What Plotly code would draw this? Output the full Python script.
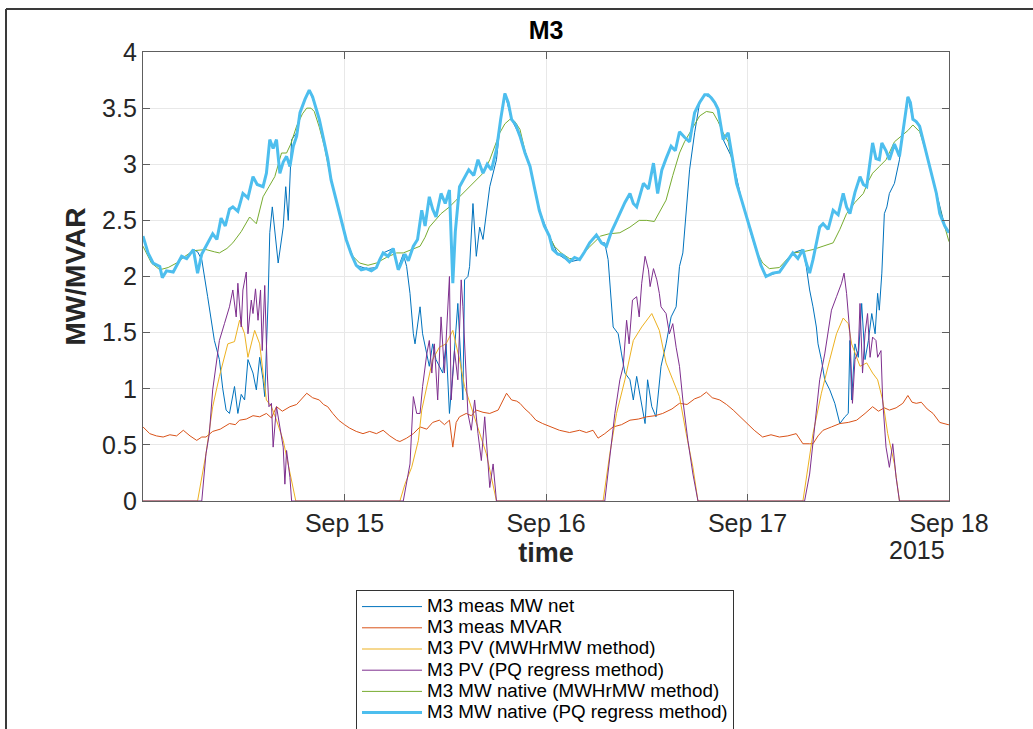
import pandas as pd
import plotly.graph_objects as go

# ---- data: hours after 2015-09-14 00:00 and values in MW / MVAR ----
start = pd.Timestamp("2015-09-14 00:00")

mw_net_h = [0.0, 0.6, 1.2, 2.0, 2.3, 2.8, 3.6, 4.2, 4.6, 5.2, 6.0, 6.5, 7.0, 7.7, 8.5, 9.1, 9.5, 9.9,
            10.3, 10.9, 11.3, 11.7, 12.1, 12.5, 13.1, 13.5, 13.9, 14.3, 14.5, 14.9, 15.1, 15.4, 15.7,
            16.1, 16.7, 17.0, 17.3, 17.7, 18.3, 18.7, 19.3, 19.8, 20.6, 21.6, 22.4, 23.0, 24.2, 25.4,
            26.6, 27.8, 28.6, 29.8, 30.4, 31.0, 31.4, 31.8, 32.2, 32.4, 33.0, 33.3, 34.1, 34.5, 34.9,
            35.7, 36.1, 36.5, 36.9, 37.5, 38.1, 38.3, 38.7, 38.9, 39.3, 39.7, 40.1, 40.5, 41.3, 42.1,
            42.6, 43.1, 43.9, 44.9, 46.1, 47.2, 48.4, 49.4, 50.8, 52.0, 53.2, 54.0, 54.6, 55.0, 55.4,
            56.0, 56.6, 57.0, 57.4, 58.0, 58.4, 58.8, 59.2, 59.8, 60.1, 60.6, 61.1, 61.5, 61.7, 62.3,
            62.9, 63.5, 63.9, 64.3, 64.7, 65.1, 65.7, 66.3, 66.9, 67.7, 68.5, 69.1, 70.2, 71.3, 72.5,
            73.6, 74.2, 75.8, 77.4, 78.6, 79.0, 79.4, 79.8, 80.2, 80.4, 80.8, 81.2, 81.8, 82.4, 83.0,
            83.6, 84.0, 84.2, 84.4, 84.8, 85.2, 85.6, 86.0, 86.4, 86.8, 87.2, 87.5, 87.7, 88.0, 88.3,
            88.6, 88.9, 89.5, 90.1, 90.6, 91.1, 91.7, 92.5, 93.3, 94.5, 95.5, 96.0]
mw_net_v = [2.36, 2.21, 2.12, 2.09, 1.99, 2.05, 2.04, 2.12, 2.18, 2.16, 2.24, 2.22, 2.15, 1.82, 1.43,
            1.26, 1.00, 0.81, 0.78, 1.02, 0.78, 0.95, 0.90, 1.26, 1.14, 0.99, 1.28, 1.08, 0.93, 1.79,
            2.39, 2.62, 2.40, 2.12, 2.44, 2.80, 2.50, 3.22, 3.28, 3.46, 3.58, 3.66, 3.51, 3.19, 2.86,
            2.68, 2.33, 2.10, 2.07, 2.08, 2.21, 2.25, 2.08, 2.20, 2.09, 1.85, 1.49, 1.40, 1.73, 1.49,
            1.20, 1.40, 1.26, 1.14, 1.40, 0.78, 1.14, 1.76, 0.90, 1.97, 2.00, 2.09, 2.65, 2.18, 2.44,
            2.33, 2.80, 3.04, 3.40, 3.63, 3.40, 3.25, 2.98, 2.59, 2.36, 2.20, 2.13, 2.15, 2.30, 2.37,
            2.30, 2.30, 2.15, 1.55, 1.49, 1.31, 1.14, 1.08, 0.90, 1.11, 0.93, 0.69, 1.08, 0.84, 0.75,
            1.02, 1.20, 1.40, 1.64, 1.73, 2.09, 2.21, 2.56, 2.95, 3.28, 3.55, 3.62, 3.59, 3.49, 3.22,
            3.05, 2.68, 2.36, 2.10, 2.00, 2.04, 2.21, 2.24, 2.09, 1.88, 1.73, 1.55, 1.40, 1.26, 1.08,
            0.99, 0.87, 0.69, 0.75, 0.78, 1.43, 0.90, 1.40, 1.28, 1.76, 1.26, 1.43, 1.67, 1.49, 1.85,
            1.70, 2.03, 2.56, 2.62, 2.74, 2.83, 3.04, 3.35, 3.60, 3.40, 3.34, 3.10, 2.74, 2.45, 2.39]

mvar_h = [0.0, 0.8, 1.6, 2.4, 3.2, 4.0, 4.8, 5.6, 6.4, 7.0, 7.5, 8.3, 9.2, 10.3, 11.0, 11.5, 12.3,
          13.1, 13.9, 14.7, 15.3, 15.9, 16.6, 17.5, 18.3, 19.0, 19.5, 20.2, 21.0, 21.5, 22.0, 22.6,
          23.3, 24.0, 24.6, 25.4, 26.2, 27.0, 27.8, 28.6, 29.4, 30.2, 30.6, 31.4, 32.2, 33.0, 33.8,
          34.5, 35.3, 35.9, 36.5, 36.9, 37.3, 37.7, 38.5, 39.1, 39.7, 40.5, 41.3, 42.3, 42.8, 43.3,
          43.9, 44.5, 44.9, 45.5, 46.1, 46.8, 47.6, 48.6, 49.6, 50.8, 52.0, 52.8, 53.6, 54.2, 55.0,
          56.0, 57.0, 58.0, 59.0, 60.0, 61.0, 61.9, 63.0, 63.9, 64.8, 65.7, 66.4, 67.1, 67.8, 68.7,
          69.5, 70.3, 71.1, 71.9, 72.8, 73.8, 74.8, 75.8, 76.8, 77.8, 78.6, 79.4, 79.8, 80.4, 81.0,
          82.0, 83.0, 84.0, 85.0, 86.0, 86.9, 87.6, 88.3, 88.9, 89.7, 90.5, 91.1, 91.6, 92.1, 92.7,
          93.4, 94.1, 94.9, 95.9, 96.0]
mvar_v = [0.66, 0.60, 0.58, 0.57, 0.59, 0.58, 0.63, 0.58, 0.54, 0.57, 0.57, 0.62, 0.64, 0.69, 0.68,
          0.72, 0.73, 0.76, 0.75, 0.78, 0.74, 0.84, 0.80, 0.84, 0.86, 0.92, 0.96, 0.92, 0.90, 0.86,
          0.84, 0.78, 0.72, 0.68, 0.65, 0.62, 0.60, 0.62, 0.60, 0.63, 0.58, 0.54, 0.53, 0.56, 0.60,
          0.66, 0.64, 0.70, 0.72, 0.68, 0.72, 0.48, 0.70, 0.75, 0.78, 0.76, 0.81, 0.79, 0.78, 0.81,
          0.88, 0.96, 0.90, 0.89, 0.87, 0.82, 0.78, 0.72, 0.69, 0.66, 0.63, 0.61, 0.63, 0.61, 0.63,
          0.56, 0.60, 0.66, 0.68, 0.72, 0.73, 0.75, 0.76, 0.78, 0.82, 0.87, 0.86, 0.91, 0.93, 0.97,
          0.92, 0.90, 0.86, 0.81, 0.75, 0.69, 0.63, 0.57, 0.59, 0.57, 0.58, 0.60, 0.51, 0.51, 0.51,
          0.58, 0.63, 0.66, 0.69, 0.70, 0.72, 0.78, 0.84, 0.80, 0.83, 0.81, 0.83, 0.87, 0.94, 0.88,
          0.87, 0.88, 0.82, 0.78, 0.70, 0.68, 0.68]

pv_mwhr_h = [0.0, 6.5, 7.5, 8.3, 9.1, 10.1, 10.9, 11.5, 12.1, 12.5, 13.3, 13.9, 14.3, 14.7, 15.3,
             15.9, 16.7, 17.5, 18.2, 30.6, 31.2, 32.0, 32.8, 33.2, 33.8, 34.5, 35.3, 36.1, 36.9,
             37.7, 38.3, 39.1, 40.1, 40.9, 42.1, 54.8, 55.6, 56.4, 57.4, 58.4, 59.4, 60.6, 61.5,
             62.3, 63.1, 63.9, 64.7, 65.5, 66.1, 78.6, 79.8, 80.8, 81.8, 82.6, 83.4, 84.0, 84.4,
             85.4, 86.2, 86.9, 87.5, 88.1, 88.7, 89.5, 90.1, 96.0]
pv_mwhr_v = [0, 0, 0.42, 0.84, 1.11, 1.40, 1.42, 1.61, 1.49, 1.28, 1.52, 1.40, 1.14, 0.90, 0.84,
             0.72, 0.54, 0.24, 0, 0, 0.15, 0.30, 0.54, 0.81, 1.02, 1.26, 1.37, 1.40, 1.52, 1.26,
             1.02, 0.84, 0.60, 0.42, 0, 0, 0.42, 0.78, 1.08, 1.43, 1.55, 1.67, 1.52, 1.23, 1.08,
             0.93, 0.60, 0.30, 0, 0, 0.60, 0.96, 1.26, 1.49, 1.63, 1.58, 1.40, 1.20, 1.23, 1.14,
             1.08, 0.90, 0.60, 0.33, 0, 0]

pv_pq_h = [0.0, 7.0, 7.5, 7.9, 8.3, 9.1, 9.7, 10.3, 10.7, 11.1, 11.3, 11.7, 11.9, 12.3, 12.5, 12.9,
           13.1, 13.4, 13.7, 14.0, 14.2, 14.5, 14.8, 15.0, 15.3, 15.5, 15.9, 16.3, 16.7, 16.9, 17.1,
           17.5, 17.7, 31.0, 31.8, 32.2, 32.6, 33.0, 33.3, 33.8, 34.1, 34.4, 34.7, 35.1, 35.5, 35.9,
           36.3, 36.5, 36.7, 37.1, 37.5, 37.9, 38.1, 38.4, 38.7, 39.1, 39.5, 39.9, 40.3, 40.7, 41.3,
           41.7, 42.1, 55.0, 55.6, 56.2, 56.8, 57.2, 57.6, 57.9, 58.3, 58.8, 59.1, 59.4, 59.8, 60.2,
           60.4, 60.8, 61.2, 61.5, 61.7, 62.3, 62.7, 63.1, 63.5, 63.9, 64.3, 64.9, 65.5, 66.1, 78.8,
           79.4, 80.0, 80.6, 81.2, 81.6, 82.0, 82.6, 83.2, 83.5, 83.8, 84.2, 84.5, 84.8, 85.2, 85.4,
           85.7, 86.0, 86.3, 86.6, 86.9, 87.3, 87.5, 87.9, 88.1, 88.5, 88.9, 89.3, 89.7, 90.1, 96.0]
pv_pq_v = [0, 0, 0.42, 0.60, 0.99, 1.43, 1.58, 1.73, 1.88, 1.64, 1.94, 1.55, 1.88, 2.04, 1.49, 1.79,
           1.67, 1.89, 1.61, 1.88, 1.34, 1.92, 1.14, 0.84, 0.87, 0.48, 0.84, 0.66, 0.48, 0.15, 0.45,
           0.21, 0, 0, 0.33, 0.93, 0.78, 0.78, 1.02, 1.31, 1.43, 1.14, 1.40, 0.90, 1.64, 1.14, 1.70,
           2.00, 0.90, 1.34, 1.08, 1.97, 1.73, 1.26, 0.78, 0.63, 0.90, 0.60, 0.36, 0.75, 0.12, 0.33,
           0, 0, 0.42, 0.78, 1.08, 1.20, 1.61, 1.40, 1.79, 1.82, 1.64, 1.94, 2.18, 2.06, 1.91, 2.07,
           1.97, 1.85, 1.73, 1.67, 1.49, 1.58, 1.37, 1.20, 0.90, 0.54, 0.24, 0, 0, 0.24, 0.66, 1.08,
           1.31, 1.52, 1.70, 1.82, 1.94, 2.03, 1.85, 1.49, 0.87, 1.26, 1.34, 1.76, 1.14, 1.49, 1.67,
           1.28, 1.46, 1.43, 1.28, 1.34, 0.90, 0.48, 0.30, 0.51, 0.21, 0, 0]

native_mwhr_h = [0.0, 1.0, 2.0, 3.0, 4.0, 5.0, 6.0, 7.5, 8.5, 9.1, 10.0, 10.7, 11.7, 12.7, 13.5,
                 14.3, 15.0, 15.7, 16.5, 17.1, 17.6, 18.3, 19.0, 19.5, 20.0, 20.4, 21.0, 21.6, 22.4,
                 23.0, 23.6, 24.2, 25.0, 25.8, 26.8, 27.8, 29.0, 30.2, 31.0, 32.0, 33.0, 33.6, 34.1,
                 35.5, 36.5, 37.3, 38.1, 39.0, 39.7, 40.5, 41.3, 41.9, 42.5, 43.1, 43.7, 44.3, 44.9,
                 45.5, 46.1, 46.6, 47.2, 47.8, 48.4, 49.0, 49.8, 50.8, 52.0, 53.0, 54.5, 55.5, 56.8,
                 58.0, 59.1, 60.0, 60.9, 61.6, 62.3, 63.1, 63.9, 64.5, 65.1, 65.7, 66.3, 67.1, 67.9,
                 68.5, 69.1, 69.7, 70.2, 70.7, 71.3, 71.9, 72.5, 73.1, 73.8, 74.6, 75.8, 76.6, 77.4,
                 78.6, 79.8, 81.0, 82.2, 83.0, 83.8, 84.8, 85.8, 86.4, 86.9, 87.7, 88.5, 89.5, 90.5,
                 91.1, 91.7, 92.1, 92.5, 93.3, 93.9, 94.5, 95.2, 96.0]
native_mwhr_v = [2.27, 2.12, 2.06, 2.08, 2.12, 2.18, 2.23, 2.24, 2.22, 2.21, 2.25, 2.30, 2.40, 2.53,
                 2.47, 2.71, 2.80, 2.89, 3.10, 3.10, 3.18, 3.34, 3.45, 3.50, 3.50, 3.47, 3.33, 3.16,
                 2.86, 2.68, 2.50, 2.33, 2.18, 2.12, 2.10, 2.12, 2.17, 2.21, 2.21, 2.24, 2.27, 2.35,
                 2.44, 2.56, 2.62, 2.68, 2.74, 2.80, 2.86, 2.92, 3.04, 3.16, 3.28, 3.36, 3.40, 3.38,
                 3.31, 3.12, 2.98, 2.80, 2.59, 2.45, 2.36, 2.27, 2.21, 2.16, 2.16, 2.25, 2.36, 2.38,
                 2.39, 2.44, 2.50, 2.50, 2.49, 2.58, 2.68, 2.90, 3.10, 3.20, 3.28, 3.36, 3.43, 3.47,
                 3.46, 3.38, 3.28, 3.20, 3.02, 2.83, 2.68, 2.53, 2.36, 2.22, 2.12, 2.07, 2.08, 2.15,
                 2.21, 2.22, 2.24, 2.27, 2.30, 2.42, 2.56, 2.66, 2.74, 2.85, 2.92, 2.98, 3.04, 3.20,
                 3.26, 3.30, 3.35, 3.32, 3.29, 3.10, 2.92, 2.74, 2.52, 2.31]

native_pq_h = [0.0, 0.6, 1.2, 2.0, 2.3, 2.8, 3.6, 4.2, 4.6, 5.2, 6.0, 6.5, 7.0, 7.5, 8.3, 8.8, 9.3,
               9.8, 10.3, 10.7, 11.3, 11.9, 12.5, 13.1, 13.6, 14.3, 14.7, 15.1, 15.5, 15.9, 16.3,
               16.7, 17.1, 17.5, 17.9, 18.3, 18.7, 19.3, 19.8, 20.2, 20.6, 21.0, 21.6, 22.0, 22.4,
               23.0, 23.6, 24.2, 24.8, 25.4, 26.0, 26.6, 27.2, 27.8, 28.2, 28.6, 29.2, 29.8, 30.4,
               30.6, 31.2, 31.6, 32.2, 32.7, 33.2, 33.6, 34.1, 34.5, 34.9, 35.5, 36.0, 36.5, 36.9,
               37.2, 37.7, 38.3, 38.8, 39.4, 39.9, 40.5, 41.0, 41.5, 42.1, 42.6, 43.1, 43.5, 43.9,
               44.4, 44.9, 45.5, 46.1, 46.6, 47.2, 47.8, 48.4, 48.8, 49.4, 50.0, 50.8, 51.4, 52.0,
               52.6, 53.2, 54.0, 54.6, 55.2, 55.8, 56.3, 56.8, 57.4, 58.0, 58.4, 58.8, 59.6, 60.2,
               60.8, 61.3, 61.8, 62.3, 62.9, 63.4, 63.9, 64.5, 65.1, 65.7, 66.3, 66.9, 67.3, 67.7,
               68.1, 68.5, 69.1, 69.7, 70.2, 70.7, 71.3, 71.9, 72.5, 73.1, 73.6, 74.2, 75.0, 75.8,
               76.6, 77.4, 78.0, 78.6, 79.0, 79.4, 79.8, 80.3, 80.6, 81.0, 81.6, 82.2, 82.8, 83.4,
               83.8, 84.2, 84.8, 85.4, 85.8, 86.2, 86.9, 87.3, 87.7, 88.0, 88.5, 88.9, 89.5, 90.1,
               90.6, 91.1, 91.4, 91.7, 92.1, 92.5, 92.9, 93.3, 93.9, 94.5, 94.9, 95.5, 96.0]
native_pq_v = [2.36, 2.21, 2.12, 2.09, 1.99, 2.05, 2.04, 2.12, 2.18, 2.16, 2.24, 2.03, 2.20, 2.27,
               2.38, 2.33, 2.52, 2.45, 2.60, 2.62, 2.58, 2.74, 2.70, 2.89, 2.82, 2.80, 2.92, 3.22,
               3.14, 3.22, 2.92, 3.02, 3.07, 2.98, 3.16, 3.25, 3.46, 3.58, 3.66, 3.60, 3.51, 3.40,
               3.19, 3.05, 2.86, 2.68, 2.50, 2.33, 2.20, 2.10, 2.06, 2.07, 2.05, 2.08, 2.15, 2.21,
               2.18, 2.25, 2.06, 2.09, 2.20, 2.14, 2.27, 2.33, 2.59, 2.45, 2.71, 2.60, 2.53, 2.74,
               2.65, 2.77, 1.94, 2.40, 2.80, 2.88, 2.95, 2.90, 3.04, 2.92, 3.00, 2.95, 3.13, 3.40,
               3.63, 3.55, 3.40, 3.35, 3.25, 3.10, 2.98, 2.80, 2.59, 2.45, 2.36, 2.24, 2.20, 2.19,
               2.13, 2.17, 2.15, 2.22, 2.30, 2.37, 2.30, 2.27, 2.40, 2.48, 2.56, 2.66, 2.74, 2.65,
               2.62, 2.83, 2.78, 3.01, 2.74, 2.95, 3.05, 3.16, 3.12, 3.29, 3.24, 3.20, 3.46, 3.55,
               3.62, 3.62, 3.59, 3.55, 3.49, 3.22, 3.28, 3.05, 2.83, 2.68, 2.53, 2.36, 2.21, 2.10,
               2.00, 2.03, 2.04, 2.12, 2.21, 2.16, 2.24, 2.12, 2.03, 2.15, 2.35, 2.44, 2.47, 2.42,
               2.59, 2.55, 2.74, 2.62, 2.56, 2.75, 2.89, 2.82, 2.80, 3.19, 3.05, 3.04, 3.19, 3.12,
               3.04, 3.18, 3.07, 3.35, 3.60, 3.55, 3.40, 3.38, 3.34, 3.22, 3.10, 2.92, 2.74, 2.56,
               2.45, 2.39]

series_names = ["M3 meas MW net", "M3 meas MVAR", "M3 PV (MWHrMW method)",
                "M3 PV (PQ regress method)", "M3 MW native (MWHrMW method)",
                "M3 MW native (PQ regress method)"]
tick_dates = ["2015-09-15", "2015-09-16", "2015-09-17", "2015-09-18"]
tick_text = ["Sep 15", "Sep 16", "Sep 17", "Sep 18"]

# ---- styling ----
colors = ["#0072BD", "#D95319", "#EDB120", "#7E2F8E", "#77AC30", "#4DBEEE"]
widths = [1, 1, 1, 1, 1, 3]
FONT = "Liberation Sans, Arial, sans-serif"
TXT = "#262626"

W, H = 1033, 729
L, R, T, B = 143, 84, 52, 228
PW, PH = W - L - R, H - T - B


def px_x(x):
    return (x - L) / PW


def px_y(y):
    return (H - B - y) / PH


def to_time(hours):
    return start + pd.to_timedelta(hours, unit="h")


series = [(mw_net_h, mw_net_v), (mvar_h, mvar_v), (pv_mwhr_h, pv_mwhr_v),
          (pv_pq_h, pv_pq_v), (native_mwhr_h, native_mwhr_v), (native_pq_h, native_pq_v)]

fig = go.Figure()
for (hrs, vals), name, c, w in zip(series, series_names, colors, widths):
    fig.add_trace(go.Scatter(
        x=to_time(hrs), y=vals, mode="lines",
        name=f'<span style="font-size:18.8px">{name}</span>',
        line=dict(color=c, width=w),
    ))

axis_common = dict(
    showline=True, linecolor="#5e5e5e", linewidth=1.3, mirror="ticks",
    ticks="inside", ticklen=7, tickcolor="#5e5e5e", tickwidth=1,
    showgrid=True, gridcolor="#e8e8e8", gridwidth=1, zeroline=False,
    tickfont=dict(family=FONT, size=25, color=TXT),
)

fig.update_xaxes(
    type="date", range=[start, start + pd.Timedelta(days=4)],
    tickvals=tick_dates, ticktext=tick_text,
    title=dict(text="<b>time</b>", font=dict(family=FONT, size=27, color=TXT), standoff=6),
    **axis_common,
)
fig.update_yaxes(
    range=[0, 4], dtick=0.5,
    title=dict(text="<b>MW/MVAR</b>", font=dict(family=FONT, size=28, color=TXT), standoff=8),
    **axis_common,
)

fig.update_layout(
    width=W, height=H,
    margin=dict(l=L, r=R, t=T, b=B, autoexpand=False),
    paper_bgcolor="white", plot_bgcolor="white",
    font=dict(family=FONT, color=TXT),
    title=dict(text="<b>M3</b>", x=0.5, xref="paper", y=1 - 30 / H, yanchor="middle",
               font=dict(family=FONT, size=25, color="#000000")),
    legend=dict(
        x=px_x(356), y=px_y(590), xanchor="left", yanchor="top",
        bgcolor="white", bordercolor="#333333", borderwidth=1,
        font=dict(family=FONT, size=14, color="#000000"),
        itemwidth=60, tracegroupgap=0,
    ),
    showlegend=True,
)

# year label under the last date tick
fig.add_annotation(
    text="2015", x=px_x(947), y=px_y(550), xref="paper", yref="paper",
    xanchor="right", yanchor="middle", showarrow=False,
    font=dict(family=FONT, size=25, color=TXT),
)

# figure window edge
fig.add_shape(type="line", xref="paper", yref="paper",
              x0=px_x(6), x1=px_x(W + 2), y0=px_y(9), y1=px_y(9),
              line=dict(color="#3a3a3a", width=2))
fig.add_shape(type="line", xref="paper", yref="paper",
              x0=px_x(6), x1=px_x(6), y0=px_y(9), y1=px_y(H + 2),
              line=dict(color="#3a3a3a", width=2))

fig.write_html("out.html")
